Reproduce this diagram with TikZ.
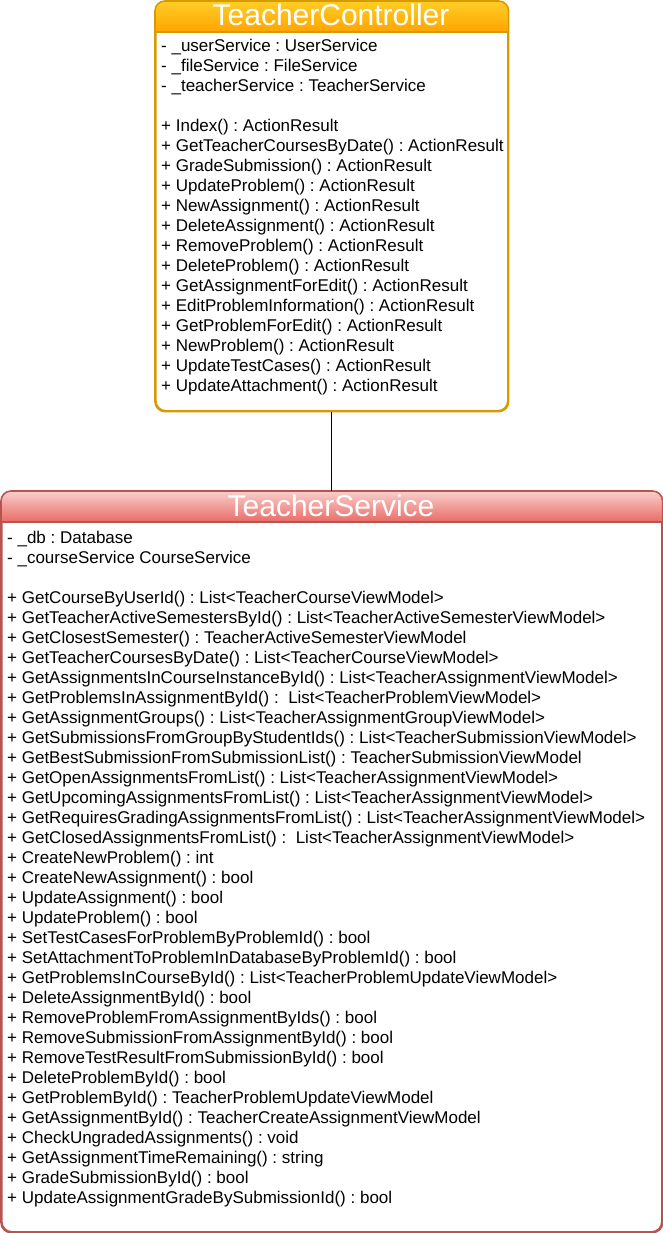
\documentclass[tikz,border=0pt]{standalone}
\usepackage{fontspec}
\setmainfont{Liberation Sans}
\frenchspacing
\definecolor{orTop}{HTML}{FFCD28}
\definecolor{orBot}{HTML}{FFA500}
\definecolor{orLine}{HTML}{D79B00}
\definecolor{rdTop}{HTML}{F8CECC}
\definecolor{rdBot}{HTML}{EA6B66}
\definecolor{rdLine}{HTML}{B85450}
\begin{document}
\begin{tikzpicture}[x=1pt,y=1pt]
\tikzset{
  classbox/.style={draw=#1Line, line width=1.6pt, rounded corners=10pt, fill=white,
    inner sep=0pt, anchor=north west},
  member/.style={anchor=north west, align=left, inner sep=0pt,
    font=\fontsize{17}{20}\selectfont\frenchspacing},
  classtitle/.style={anchor=base, text=white, inner sep=0pt,
    font=\fontsize{30}{30}\selectfont}
}
\useasboundingbox (0,0) rectangle (663,-1233);
\fill[white] (0,0) rectangle (663,-1233);

\node[classbox=or, minimum width=352pt, minimum height=409pt] (tc) at (155,-1) {};
\node[classbox=rd, minimum width=660pt, minimum height=740pt] (ts) at (1,-491) {};

% header gradients
\begin{scope}
  \clip[rounded corners=10pt] (tc.north west) rectangle (tc.south east);
  \shade[top color=orTop, bottom color=orBot] (tc.north west) rectangle ([yshift=-31pt]tc.north east);
\end{scope}
\begin{scope}
  \clip[rounded corners=10pt] (ts.north west) rectangle (ts.south east);
  \shade[top color=rdTop, bottom color=rdBot] (ts.north west) rectangle ([yshift=-31pt]ts.north east);
\end{scope}
\draw[orLine, line width=1.6pt, rounded corners=10pt] (tc.north west) rectangle (tc.south east);
\draw[rdLine, line width=1.6pt, rounded corners=10pt] (ts.north west) rectangle (ts.south east);
\draw[orLine, line width=1.6pt] ([yshift=-31pt]tc.north west) -- ([yshift=-31pt]tc.north east);
\draw[rdLine, line width=1.6pt] ([yshift=-31pt]ts.north west) -- ([yshift=-31pt]ts.north east);

\draw[line width=0.8pt] (tc.south) -- (ts.north);

\node[classtitle] (tct) at (331,-26) {TeacherController};
\node[classtitle] (tst) at (331,-516) {TeacherService};

\node[member] (tcm) at (161,-37.5) {%
\strut- \_userService : UserService\\
- \_fileService : FileService\\
- \_teacherService : TeacherService\\[20pt]
+ Index() : ActionResult\\
+ GetTeacherCoursesByDate() : ActionResult\\
+ GradeSubmission() : ActionResult\\
+ UpdateProblem() : ActionResult\\
+ NewAssignment() : ActionResult\\
+ DeleteAssignment() : ActionResult\\
+ RemoveProblem() : ActionResult\\
+ DeleteProblem() : ActionResult\\
+ GetAssignmentForEdit() : ActionResult\\
+ EditProblemInformation() : ActionResult\\
+ GetProblemForEdit() : ActionResult\\
+ NewProblem() : ActionResult\\
+ UpdateTestCases() : ActionResult\\
+ UpdateAttachment() : ActionResult};

\node[member] (tsm) at (7,-529.5) {%
\strut- \_db : Database\\
- \_courseService CourseService\\[20pt]
+ GetCourseByUserId() : List<TeacherCourseViewModel>\\
+ GetTeacherActiveSemestersById() : List<TeacherActiveSemesterViewModel>\\
+ GetClosestSemester() : TeacherActiveSemesterViewModel\\
+ GetTeacherCoursesByDate() : List<TeacherCourseViewModel>\\
+ GetAssignmentsInCourseInstanceById() : List<TeacherAssignmentViewModel>\\
+ GetProblemsInAssignmentById() :\ \ List<TeacherProblemViewModel>\\
+ GetAssignmentGroups() : List<TeacherAssignmentGroupViewModel>\\
+ GetSubmissionsFromGroupByStudentIds() : List<TeacherSubmissionViewModel>\\
+ GetBestSubmissionFromSubmissionList() : TeacherSubmissionViewModel\\
+ GetOpenAssignmentsFromList() : List<TeacherAssignmentViewModel>\\
+ GetUpcomingAssignmentsFromList() : List<TeacherAssignmentViewModel>\\
+ GetRequiresGradingAssignmentsFromList() : List<TeacherAssignmentViewModel>\\
+ GetClosedAssignmentsFromList() :\ \ List<TeacherAssignmentViewModel>\\
+ CreateNewProblem() : int\\
+ CreateNewAssignment() : bool\\
+ UpdateAssignment() : bool\\
+ UpdateProblem() : bool\\
+ SetTestCasesForProblemByProblemId() : bool\\
+ SetAttachmentToProblemInDatabaseByProblemId() : bool\\
+ GetProblemsInCourseById() : List<TeacherProblemUpdateViewModel>\\
+ DeleteAssignmentById() : bool\\
+ RemoveProblemFromAssignmentByIds() : bool\\
+ RemoveSubmissionFromAssignmentById() : bool\\
+ RemoveTestResultFromSubmissionById() : bool\\
+ DeleteProblemById() : bool\\
+ GetProblemById() : TeacherProblemUpdateViewModel\\
+ GetAssignmentById() : TeacherCreateAssignmentViewModel\\
+ CheckUngradedAssignments() : void\\
+ GetAssignmentTimeRemaining() : string\\
+ GradeSubmissionById() : bool\\
+ UpdateAssignmentGradeBySubmissionId() : bool};
\end{tikzpicture}
\end{document}
